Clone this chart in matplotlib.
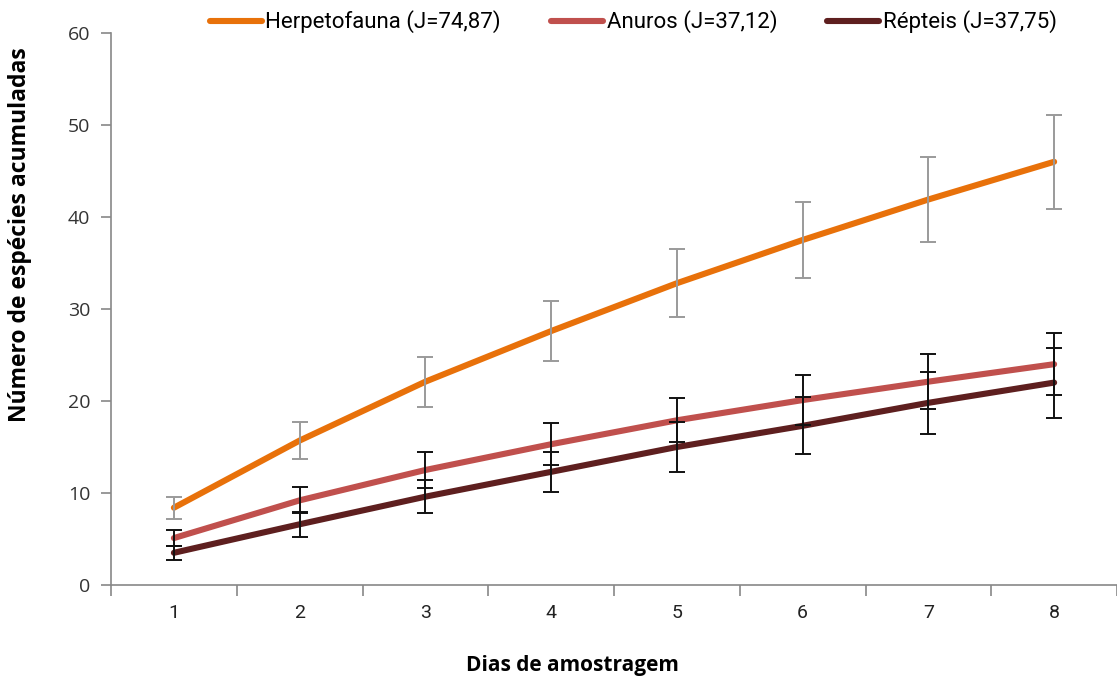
import matplotlib.pyplot as plt
from matplotlib.ticker import FixedLocator

# accumulated species per sampling day (mean and +/- error)
dias = [1, 2, 3, 4, 5, 6, 7, 8]
herpeto = [8.4, 15.7, 22.1, 27.6, 32.8, 37.5, 41.9, 46.0]
herpeto_err = [1.2, 2.0, 2.7, 3.3, 3.7, 4.1, 4.6, 5.1]
anuros = [5.1, 9.2, 12.5, 15.3, 17.9, 20.1, 22.1, 24.0]
anuros_err = [0.85, 1.4, 2.0, 2.3, 2.4, 2.7, 3.0, 3.4]
repteis = [3.5, 6.6, 9.6, 12.3, 15.0, 17.3, 19.8, 22.0]
repteis_err = [0.75, 1.35, 1.8, 2.2, 2.7, 3.1, 3.4, 3.8]

labels = ['Herpetofauna (J=74,87)', 'Anuros (J=37,12)', 'Répteis (J=37,75)']
colors = ['#E8710A', '#C0504D', '#5E1F1F']

fig = plt.figure(figsize=(11.17, 6.77), dpi=100)
ax = fig.add_axes([0.0994, 0.1359, 0.9006, 0.8154])

series = [(herpeto, herpeto_err, '#9a9a9a'),
          (anuros, anuros_err, '#111111'),
          (repteis, repteis_err, '#111111')]
for (vals, errs, ecol), lab, col in zip(series, labels, colors):
    ax.errorbar(dias, vals, yerr=errs, fmt='none', ecolor=ecol,
                elinewidth=1.4, capsize=6, capthick=1.4, zorder=3)
    ax.plot(dias, vals, color=col, lw=4.4, label=lab, zorder=2,
            solid_capstyle='round')

ax.set_xlim(0.5, 8.5)
ax.set_ylim(0, 60)
ax.set_yticks(range(0, 61, 10))
ax.set_xticks(dias)
ax.xaxis.set_minor_locator(FixedLocator([x + 0.5 for x in range(0, 9)]))
ax.tick_params(axis='x', which='major', length=0, pad=14)
ax.tick_params(axis='x', which='minor', length=8, color='#888888', width=1.2)
ax.tick_params(axis='y', length=7, color='#888888', width=1.2, pad=8)

for s in ['top', 'right']:
    ax.spines[s].set_visible(False)
for s in ['left', 'bottom']:
    ax.spines[s].set_color('#888888')
    ax.spines[s].set_linewidth(1.2)

for t in ax.get_yticklabels():
    t.set_fontfamily('Open Sans')
    t.set_fontsize(14)
    t.set_color('#333333')
for t in ax.get_xticklabels():
    t.set_fontfamily('Roboto')
    t.set_fontsize(14)
    t.set_color('#222222')

ax.set_ylabel('Número de espécies acumuladas', fontfamily='Open Sans',
              fontweight='bold', fontsize=16.5, va='center')
ax.yaxis.set_label_coords(-0.0905, 0.634)
ax.set_xlabel('Dias de amostragem', fontfamily='Open Sans',
              fontweight='bold', fontsize=15, va='center')
ax.xaxis.set_label_coords(0.459, -0.145)

fig.legend(loc='center', bbox_to_anchor=(0.567, 0.9675), ncol=3,
           frameon=False, handlelength=2.35, handletextpad=0.15,
           columnspacing=2.25, borderaxespad=0, borderpad=0,
           prop={'family': 'Roboto', 'size': 16})

fig.savefig('out.png', dpi=100)
